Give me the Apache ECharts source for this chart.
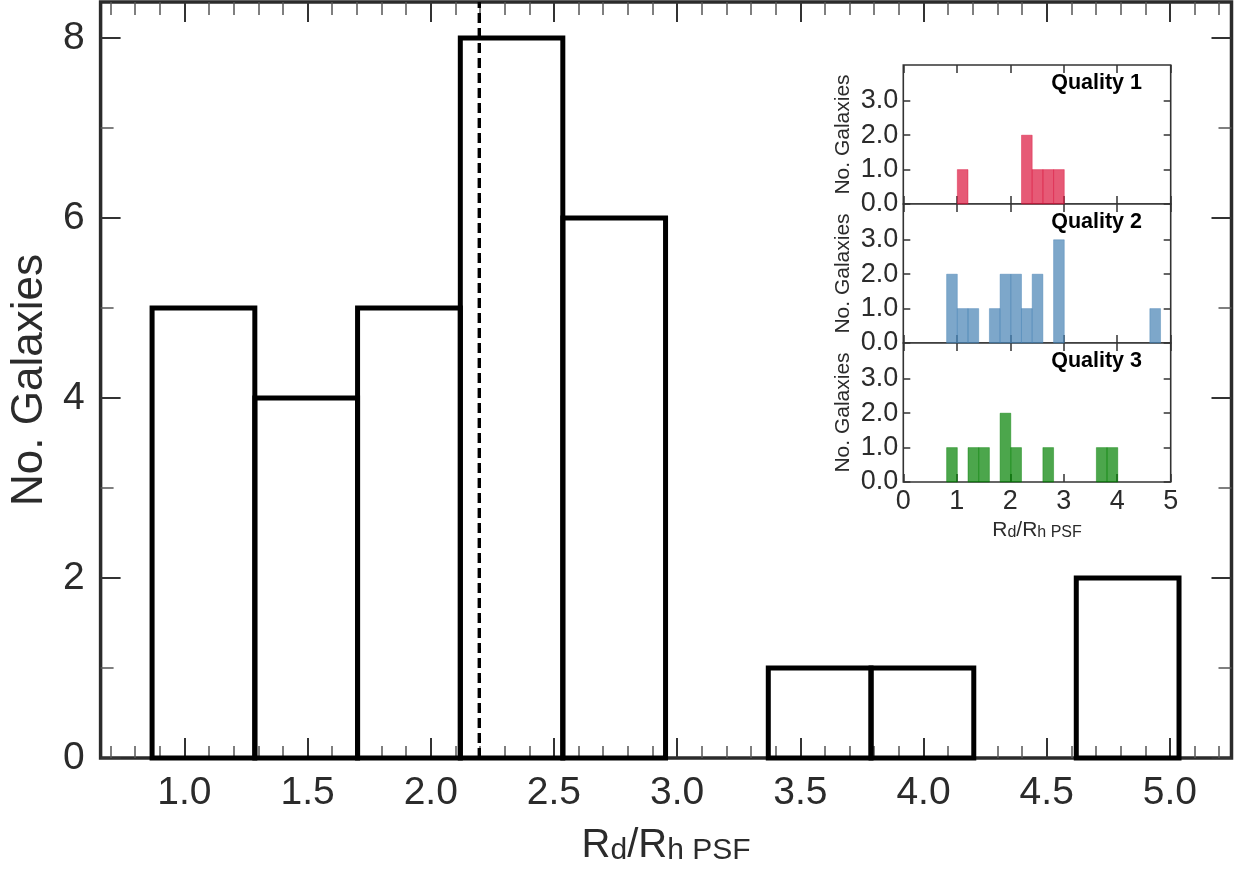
<!DOCTYPE html>
<html>
<head>
<meta charset="utf-8">
<script src="https://cdn.jsdelivr.net/npm/echarts@6/dist/echarts.min.js"></script>
<style>
html,body{margin:0;padding:0;background:#fff;}
#chart{width:1241px;height:873px;}
</style>
</head>
<body>
<div id="chart"></div>
<script>
// ---------- data ----------
const mainBinEdges = [0.869, 1.286, 1.703, 2.120, 2.536, 2.953, 3.370, 3.787, 4.204, 4.620, 5.037];
const mainCounts = [5, 4, 5, 8, 6, 0, 1, 1, 0, 2];
const medianValue = 2.197;

const xMajorTicks = [1.0, 1.5, 2.0, 2.5, 3.0, 3.5, 4.0, 4.5, 5.0];
const xMinorTicks = [0.7, 0.8, 0.9, 1.1, 1.2, 1.3, 1.4, 1.6, 1.7, 1.8, 1.9, 2.1, 2.2, 2.3, 2.4,
  2.6, 2.7, 2.8, 2.9, 3.1, 3.2, 3.3, 3.4, 3.6, 3.7, 3.8, 3.9, 4.1, 4.2, 4.3, 4.4,
  4.6, 4.7, 4.8, 4.9, 5.1, 5.2];
const yMajorTicks = [0, 2, 4, 6, 8];
const yMinorTicks = [1, 3, 5, 7];

const insetBinEdges = [0.81, 1.01, 1.21, 1.41, 1.61, 1.81, 2.01, 2.21, 2.41, 2.61, 2.81,
  3.01, 3.21, 3.41, 3.61, 3.81, 4.01, 4.21, 4.41, 4.61, 4.81];
const quality1Counts = [0, 1, 0, 0, 0, 0, 0, 2, 1, 1, 1, 0, 0, 0, 0, 0, 0, 0, 0, 0];
const quality2Counts = [2, 1, 1, 0, 1, 2, 2, 1, 2, 0, 3, 0, 0, 0, 0, 0, 0, 0, 0, 1];
const quality3Counts = [1, 0, 1, 1, 0, 2, 1, 0, 0, 1, 0, 0, 0, 0, 1, 1, 0, 0, 0, 0];
const qualityLabels = ['Quality 1', 'Quality 2', 'Quality 3'];
const qualityColors = ['rgba(220,20,60,0.7)', 'rgba(70,130,180,0.7)', 'rgba(0,128,0,0.7)'];
const insetXTicks = [0, 1, 2, 3, 4, 5];
const insetYTicks = [0, 1, 2, 3];

// ---------- helpers ----------
function histData(edges, counts) {
  const out = [];
  for (let i = 0; i < counts.length; i++) {
    if (counts[i] > 0) out.push([edges[i], edges[i + 1], counts[i]]);
  }
  return out;
}
const FONT = "'Liberation Sans', Arial, Helvetica, sans-serif";
const TXT = '#2b2b2b';

const chart = echarts.init(document.getElementById('chart'), null, {renderer: 'canvas'});

const MAIN_XMIN = 0.66, MAIN_XMAX = 5.25, MAIN_YMAX = 8.4;
const INSET_YMAX = 4.04;

const insetGrids = [
  {left: 903.3, top: 65, width: 267.4, height: 139},
  {left: 903.3, top: 204, width: 267.4, height: 139},
  {left: 903.3, top: 343, width: 267.4, height: 139}
];

const grids = [
  {left: 99.5, top: 2, width: 1132, height: 756, show: true, borderColor: '#2b2b2b', borderWidth: 3.5, backgroundColor: '#fff'}
].concat(insetGrids.map(g => Object.assign({show: true, borderColor: '#333', borderWidth: 1.6, backgroundColor: '#fff'}, g)));

function tickAxis(base, values, len, width, color) {
  return Object.assign({
    type: 'value',
    axisLine: {show: false, onZero: false},
    splitLine: {show: false},
    axisLabel: {show: false},
    axisTick: {show: true, inside: true, length: len, customValues: values, lineStyle: {color: color, width: width}}
  }, base);
}

const xAxes = [];
const yAxes = [];
// main grid x axes
xAxes.push(Object.assign(tickAxis({gridIndex: 0, position: 'bottom', min: MAIN_XMIN, max: MAIN_XMAX}, xMajorTicks, 20, 2, '#333'), {
  axisLabel: {show: true, customValues: xMajorTicks, formatter: v => v.toFixed(1), fontSize: 39, margin: 16, color: TXT, fontFamily: FONT},
  name: '{m|R}{s|d}{m|/R}{s|h PSF}',
  nameLocation: 'middle',
  nameGap: 58,
  nameTextStyle: {
    color: TXT, fontFamily: FONT,
    rich: {
      m: {fontSize: 40, fontFamily: FONT, color: TXT, verticalAlign: 'top', lineHeight: 40},
      s: {fontSize: 30, fontFamily: FONT, color: TXT, verticalAlign: 'bottom', lineHeight: 30, padding: [18, 0, 0, 0]}
    }
  }
}));
xAxes.push(tickAxis({gridIndex: 0, position: 'bottom', min: MAIN_XMIN, max: MAIN_XMAX}, xMinorTicks, 12, 1.5, '#555'));
xAxes.push(tickAxis({gridIndex: 0, position: 'top', min: MAIN_XMIN, max: MAIN_XMAX}, xMajorTicks, 20, 2, '#333'));
xAxes.push(tickAxis({gridIndex: 0, position: 'top', min: MAIN_XMIN, max: MAIN_XMAX}, xMinorTicks, 13, 1.5, '#555'));
// main grid y axes
yAxes.push(Object.assign(tickAxis({gridIndex: 0, position: 'left', min: 0, max: MAIN_YMAX}, yMajorTicks, 20, 2, '#333'), {
  axisLabel: {show: true, customValues: yMajorTicks, fontSize: 39, margin: 16, color: TXT, fontFamily: FONT},
  name: 'No. Galaxies',
  nameLocation: 'middle',
  nameGap: 48,
  nameTextStyle: {fontSize: 44, color: TXT, fontFamily: FONT}
}));
yAxes.push(tickAxis({gridIndex: 0, position: 'left', min: 0, max: MAIN_YMAX}, yMinorTicks, 13, 1.5, '#555'));
yAxes.push(tickAxis({gridIndex: 0, position: 'right', min: 0, max: MAIN_YMAX}, yMajorTicks, 20, 2, '#333'));
yAxes.push(tickAxis({gridIndex: 0, position: 'right', min: 0, max: MAIN_YMAX}, yMinorTicks, 13, 1.5, '#555'));

// inset axes
for (let i = 0; i < 3; i++) {
  const gi = i + 1;
  const bottom = tickAxis({gridIndex: gi, position: 'bottom', min: 0, max: 5}, insetXTicks, 8, 1.5, '#333');
  if (i === 2) {
    Object.assign(bottom, {
      axisLabel: {show: true, customValues: insetXTicks, fontSize: 27, margin: 6, color: TXT, fontFamily: FONT},
      name: '{m|R}{s|d}{m|/R}{s|h PSF}',
      nameLocation: 'middle',
      nameGap: 38,
      nameTextStyle: {
        color: TXT, fontFamily: FONT,
        rich: {
          m: {fontSize: 21, fontFamily: FONT, color: TXT, verticalAlign: 'top', lineHeight: 21},
          s: {fontSize: 16, fontFamily: FONT, color: TXT, verticalAlign: 'bottom', lineHeight: 16, padding: [9, 0, 0, 0]}
        }
      }
    });
  }
  xAxes.push(bottom);
}
for (let i = 0; i < 3; i++) {
  xAxes.push(tickAxis({gridIndex: i + 1, position: 'top', min: 0, max: 5}, insetXTicks, 8, 1.5, '#333'));
}
for (let i = 0; i < 3; i++) {
  yAxes.push(Object.assign(tickAxis({gridIndex: i + 1, position: 'left', min: 0, max: INSET_YMAX}, insetYTicks, 7, 1.5, '#333'), {
    axisLabel: {show: true, customValues: insetYTicks, formatter: v => v.toFixed(1), fontSize: 27, margin: 5, color: TXT, fontFamily: FONT},
    name: 'No. Galaxies',
    nameLocation: 'middle',
    nameGap: 50,
    nameTextStyle: {fontSize: 21, color: TXT, fontFamily: FONT}
  }));
}
for (let i = 0; i < 3; i++) {
  yAxes.push(tickAxis({gridIndex: i + 1, position: 'right', min: 0, max: INSET_YMAX}, insetYTicks, 7, 1.5, '#333'));
}

function outlineRender(params, api) {
  const p0 = api.coord([api.value(0), 0]);
  const p1 = api.coord([api.value(1), api.value(2)]);
  return {
    type: 'rect',
    shape: {x: p0[0], y: p1[1], width: p1[0] - p0[0], height: p0[1] - p1[1]},
    style: {fill: 'none', stroke: '#000', lineWidth: 5, lineJoin: 'miter'}
  };
}
function filledRender(color) {
  return function (params, api) {
    const p0 = api.coord([api.value(0), 0]);
    const p1 = api.coord([api.value(1), api.value(2)]);
    return {
      type: 'rect',
      shape: {x: p0[0], y: p1[1], width: p1[0] - p0[0], height: p0[1] - p1[1]},
      style: {fill: color, stroke: color, lineWidth: 0.6}
    };
  };
}

const insetSeries = [quality1Counts, quality2Counts, quality3Counts].map((counts, i) => ({
  type: 'custom',
  xAxisIndex: 4 + i,
  yAxisIndex: 4 + i,
  renderItem: filledRender(qualityColors[i]),
  encode: {x: [0, 1], y: 2},
  data: histData(insetBinEdges, counts),
  silent: true
}));

const option = {
  animation: false,
  backgroundColor: '#fff',
  textStyle: {fontFamily: FONT},
  title: qualityLabels.map((t, i) => ({
    text: t,
    right: 99,
    top: insetGrids[i].top + 7,
    padding: 0,
    textStyle: {fontSize: 21.5, fontWeight: 'bold', color: '#000', fontFamily: FONT}
  })),
  grid: grids,
  xAxis: xAxes,
  yAxis: yAxes,
  series: [
    {
      type: 'custom',
      xAxisIndex: 0,
      yAxisIndex: 0,
      renderItem: outlineRender,
      encode: {x: [0, 1], y: 2},
      data: histData(mainBinEdges, mainCounts),
      silent: true,
      z: 3
    },
    {
      type: 'line',
      xAxisIndex: 0,
      yAxisIndex: 0,
      data: [[medianValue, 0], [medianValue, MAIN_YMAX]],
      symbol: 'none',
      lineStyle: {color: '#000', width: 3.4, type: [10, 5]},
      silent: true,
      z: 4
    }
  ].concat(insetSeries)
};
chart.setOption(option);
</script>
</body>
</html>
